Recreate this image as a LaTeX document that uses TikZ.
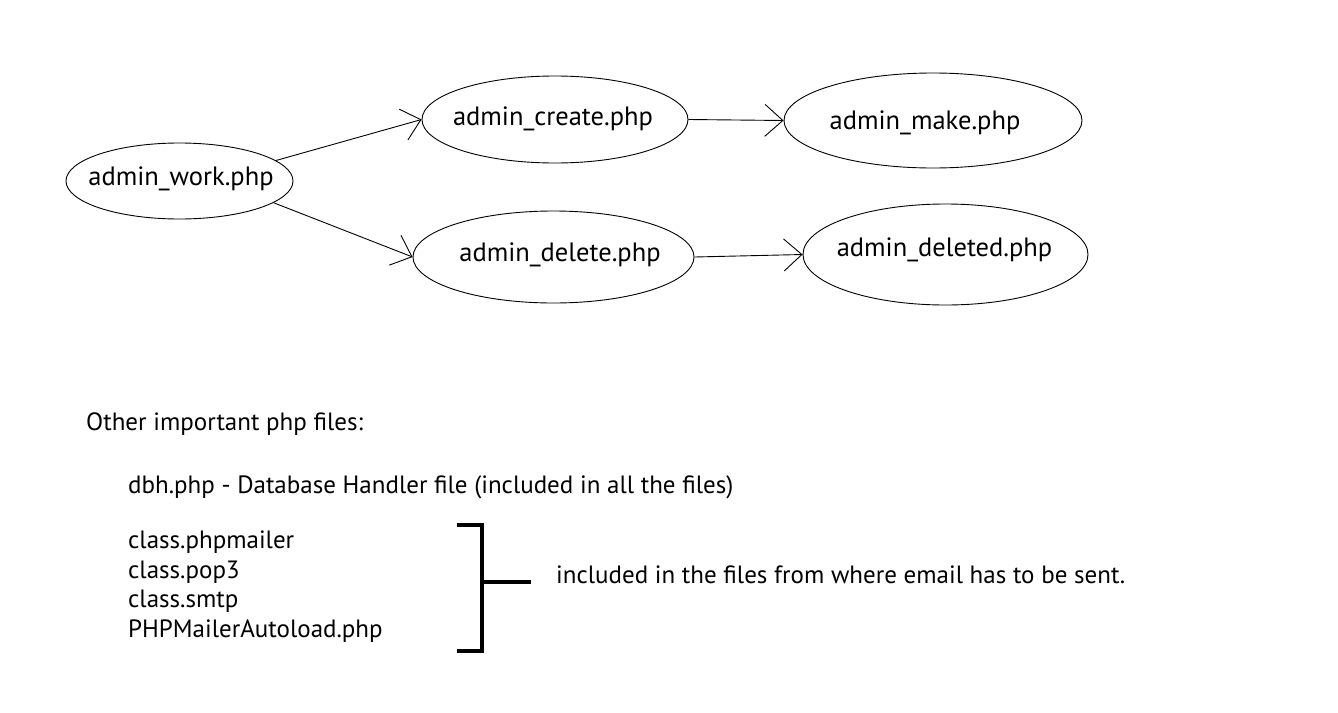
\documentclass[tikz,border=0pt]{standalone}
\usepackage{fontspec}
\setmainfont{PT Sans}
\usetikzlibrary{shapes.geometric,arrows.meta}
% text placed inside an ellipse without changing its size: #1 horizontal kern (twice the shift), #2 baseline raise
\newcommand\elltext[3]{\smash{\raisebox{#2}{\makebox[0pt]{\kern#1\relax #3}}}}
\tikzset{
  fileell/.style={draw, ellipse, line width=0.9pt, inner sep=0pt, font=\fontsize{26.5}{30}\selectfont},
  flow/.style={draw, line width=0.9pt, -{Straight Barb[length=18pt,width=32pt,line width=0.9pt]}},
  note/.style={anchor=base west, inner sep=0pt, font=\fontsize{25}{30}\selectfont},
  brace/.style={draw, line width=3.3pt}
}
\begin{document}
\begin{tikzpicture}[x=1pt,y=-1pt]
\useasboundingbox[fill=white] (0,0) rectangle (1338,712);
\node[fileell, minimum width=227pt, minimum height=76pt] (work) at (179.5,181) {\elltext{3pt}{-4pt}{admin\_work.php}};
\node[fileell, minimum width=266pt, minimum height=87pt] (create) at (555,119.5) {\elltext{-4pt}{-5.5pt}{admin\_create.php}};
\node[fileell, minimum width=298pt, minimum height=95pt] (make) at (933,120.5) {\elltext{-16pt}{-8.5pt}{admin\_make.php}};
\node[fileell, minimum width=281pt, minimum height=92pt] (delete) at (553.5,257) {\elltext{13pt}{-4.7pt}{admin\_delete.php}};
\node[fileell, minimum width=285pt, minimum height=101pt] (deleted) at (945.5,254.5) {\elltext{-2pt}{-2.2pt}{admin\_deleted.php}};
\draw[flow] (work.12) -- (create.west);
\draw[flow] (work.-13) -- (delete.west);
\draw[flow] (create.east) -- (make.west);
\draw[flow] (delete.east) -- (deleted.west);
\node[note] (other) at (86,430) {Other important php files:};
\node[note] (dbh) at (128,493) {dbh.php - Database Handler file (included in all the files)};
\node[note] (mailer) at (128,548) {class.phpmailer};
\node[note] (pop) at (128,578) {class.pop3};
\node[note] (smtp) at (128,607) {class.smtp};
\node[note] (autoload) at (128,637) {PHPMailerAutoload.php};
\coordinate (btop) at (457,525);
\coordinate (bbot) at (457,651);
\coordinate (bmid) at (482,582);
\coordinate (bend) at (531,582);
\draw[brace] (btop) -| (bmid) |- (bbot);
\draw[brace] (bmid) -- (bend);
\node[note] (included) at (556,583) {included in the files from where email has to be sent.};
\end{tikzpicture}
\end{document}
